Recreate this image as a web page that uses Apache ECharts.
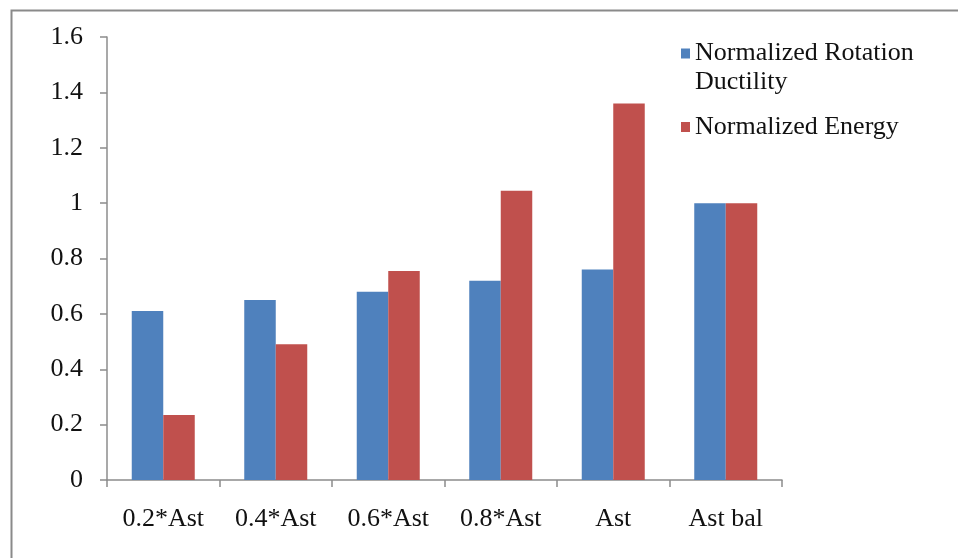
<!DOCTYPE html>
<html>
<head>
<meta charset="utf-8">
<script src="https://cdn.jsdelivr.net/npm/echarts@6/dist/echarts.min.js"></script>
<style>
  html, body { margin: 0; padding: 0; background: #fff; }
  #chart { width: 958px; height: 558px; }
</style>
</head>
<body>
<div id="chart"></div>
<script>
// Reinforcement cases and their normalized responses
const categories = ['0.2*Ast', '0.4*Ast', '0.6*Ast', '0.8*Ast', 'Ast', 'Ast bal'];
const rotationDuctility = [0.61, 0.65, 0.68, 0.72, 0.76, 1.0];
const energy = [0.235, 0.49, 0.755, 1.045, 1.36, 1.0];
const seriesNames = ['Normalized Rotation Ductility', 'Normalized Energy'];
const yTicks = { min: 0, max: 1.6, interval: 0.2 };

const FONT = 'Liberation Serif';
const FONT_SIZE = 26;
const AXIS_GRAY = '#8c8c8c';

const chart = echarts.init(document.getElementById('chart'), null, { renderer: 'canvas' });

chart.setOption({
  backgroundColor: '#ffffff',
  animation: false,
  textStyle: { fontFamily: FONT, color: '#111' },
  graphic: [{
    type: 'rect',
    left: 9, top: 8,
    shape: { width: 1000, height: 600 },
    style: { fill: 'none', stroke: '#8a8a8a', lineWidth: 2 },
    z: -1
  }],
  legend: [{
    data: [seriesNames[0]],
    orient: 'vertical',
    left: 676, top: 5,
    icon: 'rect', itemWidth: 9, itemHeight: 10, itemGap: 4,
    // blank first line keeps the swatch beside the first text line
    formatter: () => ' \nNormalized Rotation\nDuctility',
    textStyle: { fontFamily: FONT, fontSize: FONT_SIZE, lineHeight: 29, color: '#111', padding: [0, 0, 0, 0] }
  }, {
    data: [seriesNames[1]],
    orient: 'vertical',
    left: 676, top: 109,
    icon: 'rect', itemWidth: 9, itemHeight: 10,
    textStyle: { fontFamily: FONT, fontSize: FONT_SIZE, color: '#111', padding: [0, 0, 0, 0] }
  }],
  grid: { left: 107, right: 176, top: 37, bottom: 78, containLabel: false },
  xAxis: {
    type: 'category',
    data: categories,
    boundaryGap: true,
    axisLine: { lineStyle: { color: AXIS_GRAY, width: 1.5 } },
    axisTick: { show: true, alignWithLabel: false, length: 7, lineStyle: { color: AXIS_GRAY, width: 1.5 } },
    axisLabel: { margin: 26, fontFamily: FONT, fontSize: FONT_SIZE, color: '#111' }
  },
  yAxis: {
    type: 'value',
    min: yTicks.min, max: yTicks.max, interval: yTicks.interval,
    axisLine: { show: true, lineStyle: { color: AXIS_GRAY, width: 1.5 } },
    axisTick: { show: true, length: 7, lineStyle: { color: AXIS_GRAY, width: 1.5 } },
    splitLine: { show: false },
    axisLabel: { margin: 24, fontFamily: FONT, fontSize: FONT_SIZE, color: '#111' }
  },
  series: [{
    name: seriesNames[0],
    type: 'bar',
    data: rotationDuctility,
    itemStyle: { color: '#4f81bd' },
    barGap: '0%',
    barCategoryGap: '44%'
  }, {
    name: seriesNames[1],
    type: 'bar',
    data: energy,
    itemStyle: { color: '#c0504d' }
  }]
});
</script>
</body>
</html>
